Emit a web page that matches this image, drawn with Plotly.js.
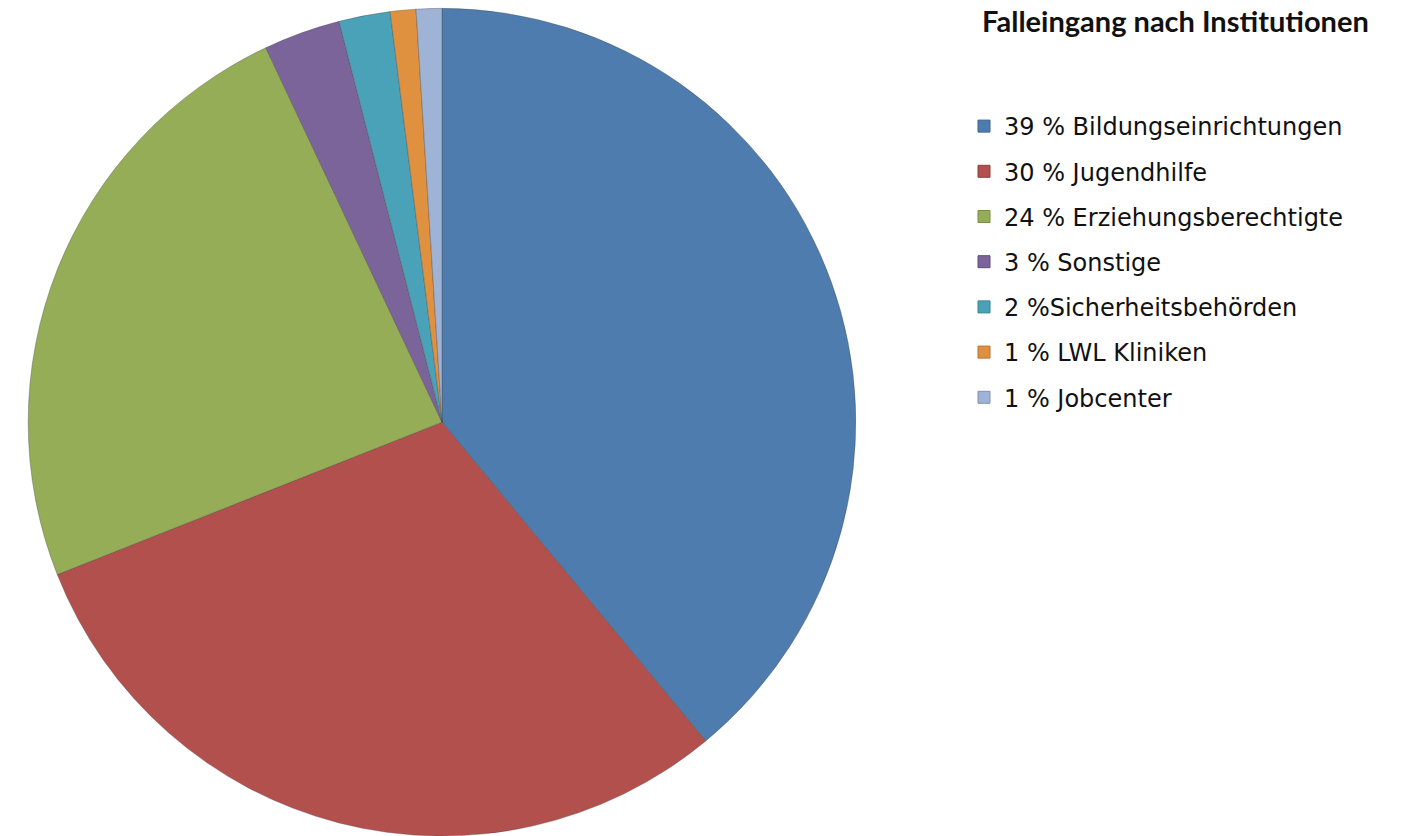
<!DOCTYPE html>
<html>
<head>
<meta charset="utf-8">
<script src="https://cdn.plot.ly/plotly-3.0.1.min.js"></script>
<style>html,body{margin:0;padding:0;background:#fff;}#chart{width:1406px;height:836px;}</style>
</head>
<body>
<div id="chart"></div>
<script>
const categories = ["Bildungseinrichtungen","Jugendhilfe","Erziehungsberechtigte","Sonstige","Sicherheitsbehörden","LWL Kliniken","Jobcenter"];
const values = [39, 30, 24, 3, 2, 1, 1];
const legendLabels = ["39 % Bildungseinrichtungen","30 % Jugendhilfe","24 % Erziehungsberechtigte","3 % Sonstige","2 %Sicherheitsbehörden","1 % LWL Kliniken","1 % Jobcenter"];
const colors = ["#4E7CAE","#B2504D","#95AD57","#7B6499","#4AA2B8","#E0913F","#9FB3D7"];
const borderColors = ["#3F6690","#8F3E3B","#778C44","#5F4C7A","#388296","#B87330","#7F92B5"];
const chartTitle = "Falleingang nach Institutionen";

const traces = [{
  type: 'pie',
  labels: categories,
  values: values,
  sort: false,
  direction: 'clockwise',
  rotation: 0,
  textinfo: 'none',
  hoverinfo: 'label+percent',
  showlegend: false,
  marker: {colors: colors, line: {color: 'rgba(70,70,70,0.35)', width: 1}},
  domain: {x: [27/1406, 857/1406], y: [0, 0.99]}
}];
legendLabels.forEach((lab, i) => {
  traces.push({
    type: 'scatter', mode: 'markers', x: [null], y: [null],
    name: lab, legendgroup: 'g' + i, showlegend: true,
    marker: {symbol: 'square', size: 12, color: colors[i], line: {color: borderColors[i], width: 1}},
    hoverinfo: 'skip'
  });
});

const layout = {
  width: 1406, height: 836,
  margin: {l: 0, r: 0, t: 0, b: 0},
  paper_bgcolor: '#fff', plot_bgcolor: '#fff',
  xaxis: {visible: false, domain: [0.99, 1]},
  yaxis: {visible: false, domain: [0.99, 1]},
  showlegend: true,
  legend: {
    x: 964/1406, xanchor: 'left', y: 1 - 104/836, yanchor: 'top',
    font: {family: '"DejaVu Sans", sans-serif', size: 24, color: '#111'},
    tracegroupgap: 11, bgcolor: 'rgba(0,0,0,0)', traceorder: 'grouped'
  },
  annotations: [{
    text: '<b>' + chartTitle + '</b>', xref: 'paper', yref: 'paper',
    x: 980/1406, y: 1 - 20/836, xanchor: 'left', yanchor: 'middle',
    showarrow: false, font: {family: 'Lato, sans-serif', size: 29, color: '#111'}
  }]
};
Plotly.newPlot('chart', traces, layout, {displayModeBar: false});
</script>
</body>
</html>
